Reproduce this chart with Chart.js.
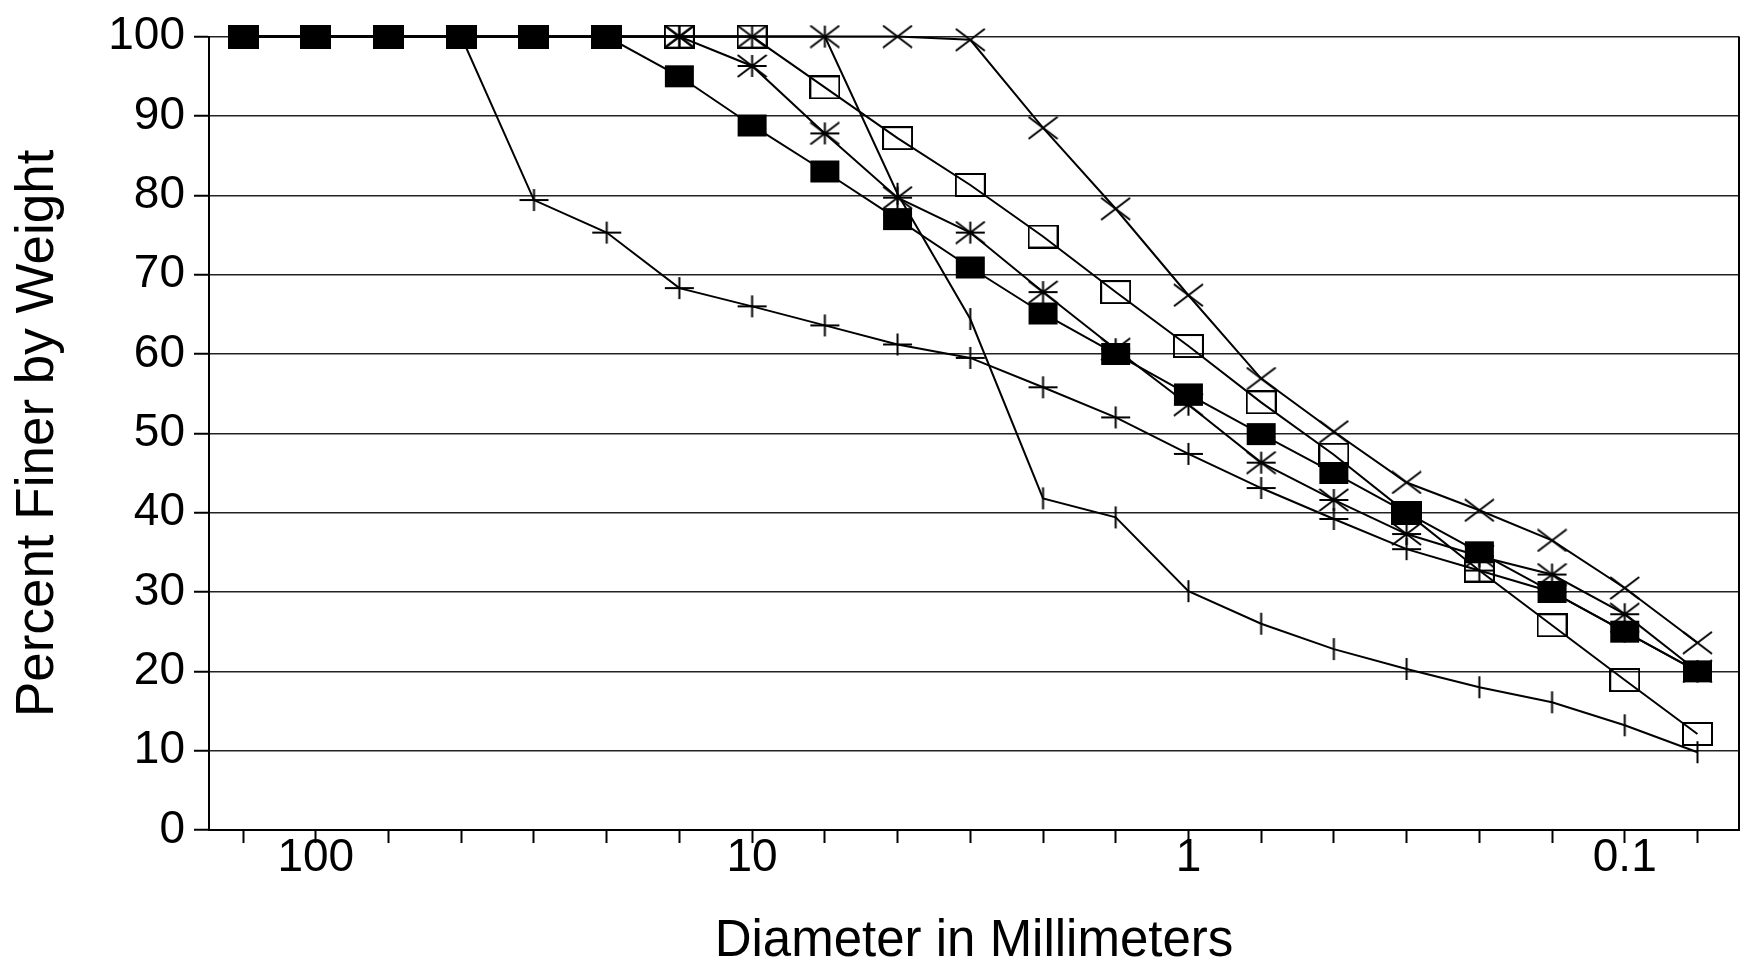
<!DOCTYPE html>
<html>
<head>
<meta charset="utf-8">
<script src="https://cdn.jsdelivr.net/npm/chart.js@4.4.1/dist/chart.umd.min.js"></script>
<style>
  html, body { margin: 0; padding: 0; background: #fff; }
  #grafico { display: block; }
</style>
</head>
<body>
<canvas id="grafico" width="1746" height="964"></canvas>
<script>
// --- DATA ---

// sieve diameters in mm (1/6 decade steps), also used as the x tick positions
const diameters = [146.8, 100, 68.13, 46.42, 31.62, 21.54, 14.68, 10, 6.813, 4.642, 3.162, 2.154,
    1.468, 1, 0.6813, 0.4642, 0.3162, 0.2154, 0.1468, 0.1, 0.06813];

// only these ticks get a label
const labeledTicks = [100, 10, 1, 0.1];
const yTicks = [0, 10, 20, 30, 40, 50, 60, 70, 80, 90, 100];

// percent finer by weight, one array per sample
const filledSquare = [100, 100, 100, 100, 100, 100, 95, 88.8, 83, 77, 70.9, 65.1, 60, 54.9, 49.9, 45, 40, 35, 30, 25, 20];
const openSquare   = [100, 100, 100, 100, 100, 100, 100, 100, 93.6, 87.2, 81.3, 74.8, 67.8, 61, 53.9, 47.3, 40, 32.7, 25.8, 18.9, 12.1];
const asterisk     = [100, 100, 100, 100, 100, 100, 100, 96.3, 87.8, 79.7, 75.3, 67.8, 60.6, 53.6, 46.3, 41.6, 37.3, 34.5, 32.2, 27.2, 20];
const crossMark    = [100, 100, 100, 100, 100, 100, 100, 100, 100, 100, 99.6, 88.5, 78.3, 67.4, 56.9, 50.2, 43.8, 40.3, 36.5, 30.5, 23.6];
const plusMark     = [100, 100, 100, 100, 79.4, 75.3, 68.3, 66, 63.6, 61.2, 59.5, 55.8, 52, 47.4, 43.1, 39.2, 35.4, 32.7, 30, 25, 20];
const tickMark     = [100, 100, 100, 100, 100, 100, 100, 100, 100, 80.2, 64.4, 41.8, 39.4, 30.1, 26, 22.8, 20.3, 18, 16.1, 13.2, 9.8];

const fontFamily = '"Liberation Sans", Arial, Helvetica, sans-serif';

// --- MARKERS ---

function makeMarker(kind) {
    const w = 31, h = 24;
    const c = document.createElement('canvas');
    c.width = w;
    c.height = h;
    const g = c.getContext('2d');
    g.strokeStyle = '#000';
    g.fillStyle = '#000';
    g.lineWidth = 2;

    if (kind === 'filled') {
        g.fillRect(1, 1, w - 2, h - 2);
    }
    if (kind === 'open') {
        g.strokeRect(1, 1, w - 2, h - 2);
    }
    g.beginPath();
    if (kind === 'cross' || kind === 'star') {
        g.moveTo(1, 1); g.lineTo(w - 1, h - 1);
        g.moveTo(w - 1, 1); g.lineTo(1, h - 1);
    }
    if (kind === 'plus' || kind === 'star') {
        g.moveTo(1, h / 2); g.lineTo(w - 1, h / 2);
    }
    if (kind === 'plus' || kind === 'star' || kind === 'tick') {
        g.moveTo(w / 2, 1); g.lineTo(w / 2, h - 1);
    }
    g.stroke();
    return c;
}

function serie(values, kind) {
    return {
        data: values.map((v, i) => ({ x: diameters[i], y: v })),
        borderColor: '#000',
        borderWidth: 2,
        tension: 0,
        fill: false,
        clip: false,
        pointStyle: makeMarker(kind),
        pointRadius: 5
    };
}

// right frame line of the plot
const rightBorder = {
    id: 'rightBorder',
    afterDraw(chart) {
        const { ctx, chartArea: a } = chart;
        ctx.save();
        ctx.strokeStyle = '#000';
        ctx.lineWidth = 2;
        ctx.beginPath();
        ctx.moveTo(a.right, a.top);
        ctx.lineTo(a.right, a.bottom);
        ctx.stroke();
        ctx.restore();
    }
};

new Chart(document.getElementById('grafico'), {
    type: 'line',
    data: {
        datasets: [
            serie(tickMark, 'tick'),
            serie(plusMark, 'plus'),
            serie(crossMark, 'cross'),
            serie(asterisk, 'star'),
            serie(openSquare, 'open'),
            serie(filledSquare, 'filled')
        ]
    },
    options: {
        responsive: false,
        animation: false,
        devicePixelRatio: 1,
        layout: { padding: { top: 31, right: 3, bottom: 0, left: 0 } },
        plugins: { legend: { display: false }, tooltip: { enabled: false } },
        scales: {
            x: {
                type: 'logarithmic',
                reverse: true,
                min: 0.05472,
                max: 175.7,
                bounds: 'data',
                afterBuildTicks: (scale) => {
                    scale.ticks = diameters.map(v => ({ value: v }));
                },
                afterFit: (scale) => { scale.height = 134; },
                ticks: {
                    autoSkip: false,
                    maxRotation: 0,
                    minRotation: 0,
                    padding: 2,
                    color: '#000',
                    font: { family: fontFamily, size: 46, lineHeight: 0.6 },
                    callback: (value) => labeledTicks.includes(value) ? String(value) : ''
                },
                grid: { drawOnChartArea: false, tickLength: 13, tickColor: '#000', tickWidth: 2 },
                border: { color: '#000', width: 2 },
                title: {
                    display: true,
                    text: 'Diameter in Millimeters',
                    color: '#000',
                    font: { family: fontFamily, size: 51, lineHeight: 0.85 },
                    padding: { top: 0, bottom: 0 }
                }
            },
            y: {
                min: 0,
                max: 100,
                afterBuildTicks: (scale) => {
                    scale.ticks = yTicks.map(v => ({ value: v }));
                },
                afterFit: (scale) => { scale.width = 209; },
                ticks: {
                    padding: 9,
                    color: '#000',
                    font: { family: fontFamily, size: 46 }
                },
                grid: { color: '#222', lineWidth: 1.5, tickLength: 15, tickColor: '#000', tickWidth: 2 },
                border: { color: '#000', width: 2 },
                title: {
                    display: true,
                    text: 'Percent Finer by Weight',
                    color: '#000',
                    font: { family: fontFamily, size: 53 },
                    padding: { top: 7, bottom: 0 }
                }
            }
        }
    },
    plugins: [rightBorder]
});
</script>
</body>
</html>
